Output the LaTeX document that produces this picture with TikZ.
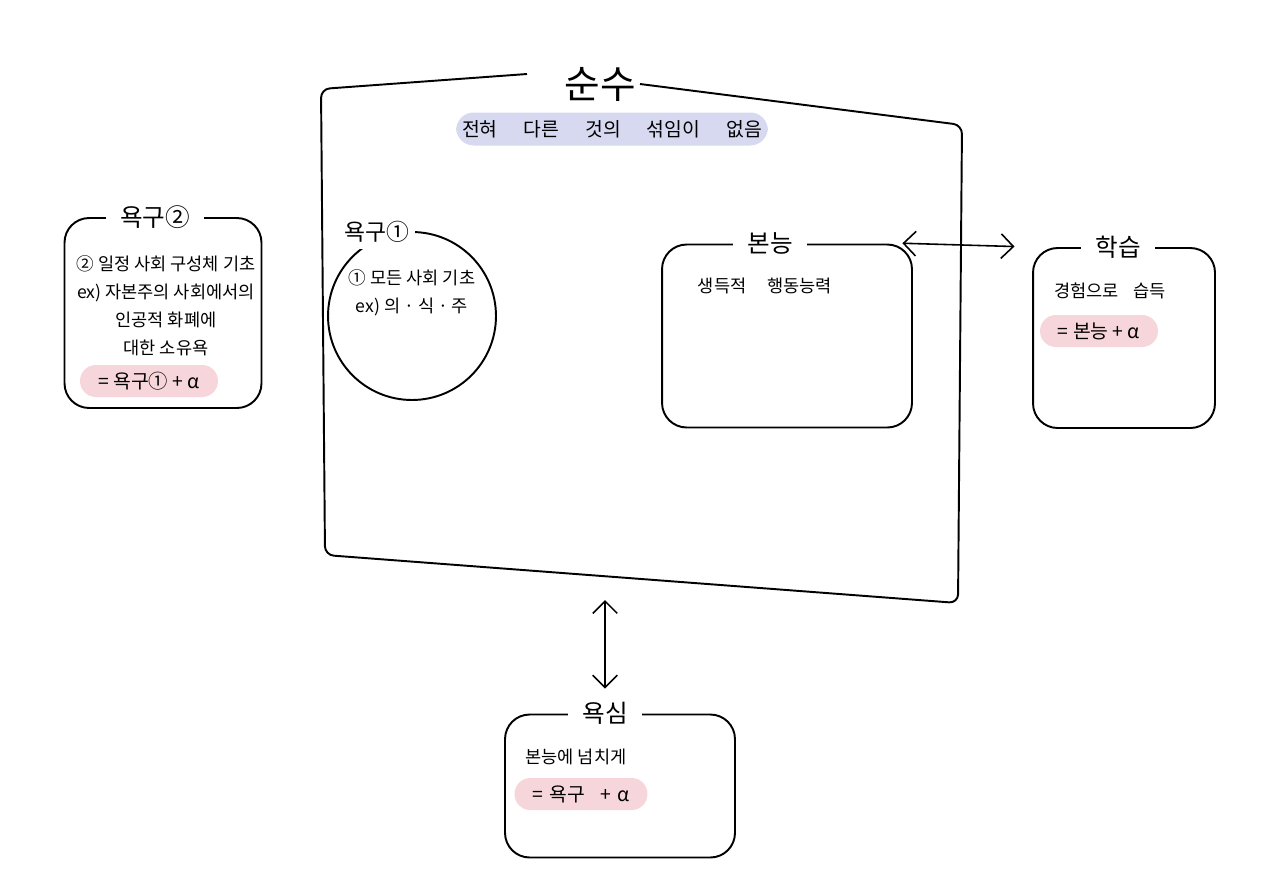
\documentclass[tikz,border=0pt]{standalone}
\usepackage{fontspec}
\setmainfont{Noto Sans CJK KR}
\usetikzlibrary{arrows.meta}

\definecolor{lavender}{RGB}{214,217,240}
\definecolor{blush}{RGB}{246,214,218}

\begin{document}
\begin{tikzpicture}[x=0.02cm, y=-0.02cm, line width=1.1pt,
  box/.style={draw, rounded corners=14pt},
  heading/.style={fill=white, inner xsep=8pt, font=\fontsize{14}{16}\selectfont},
  note/.style={align=center, font=\fontsize{10}{16}\selectfont},
  hlpink/.style={fill=blush, rounded corners=9pt, minimum height=0.64cm, font=\fontsize{11}{13}\selectfont},
  dbl/.style={{Straight Barb[length=7pt]}-{Straight Barb[length=7pt]}, line width=0.9pt}]

\useasboundingbox (0,0) rectangle (1280,893);

% Pure (big frame)
\draw[rounded corners=5pt] (527,74) -- (321,89) -- (325,555) -- (958,603) -- (962,125) -- (640,84);
\node (pure) at (600,84) {\fontsize{22}{24}\selectfont 순수};
\node[fill=lavender, rounded corners=10pt, minimum height=0.66cm, text width=6cm,
  font=\fontsize{11}{13}\selectfont] (puretext) at (612,129)
  {전혀\hfill 다른\hfill 것의\hfill 섞임이\hfill 없음};

% Desire 2
\node[box, minimum width=3.94cm, minimum height=3.8cm] (desire2) at (163,313) {};
\node[heading] (desire2t) at ([xshift=-0.16cm]desire2.north) {욕구②};
\node[note] (desire2x) at (166,306)
  {② 일정 사회 구성체 기초\\ex) 자본주의 사회에서의\\인공적 화폐에\\대한 소유욕};
\node[hlpink, minimum width=2.76cm] (desire2f) at (149,381) {= 욕구① + α};

% Desire 1
\node[draw, circle, minimum size=3.36cm] (desire1) at (412,316) {};
\node[heading, inner xsep=3pt, font=\fontsize{13}{15}\selectfont] (desire1t) at (377,232) {욕구①};
\node[note] (desire1x) at (412,293) {① 모든 사회 기초\\ex) 의 · 식 · 주};

% Instinct
\node[box, minimum width=5cm, minimum height=3.66cm] (instinct) at (787,336) {};
\node[heading] (instinctt) at ([xshift=-0.34cm]instinct.north) {본능};
\node[note] (instinctx) at (765,286) {생득적\hspace{1.2em}행동능력};

% Learning
\node[box, minimum width=3.64cm, minimum height=3.6cm] (learn) at (1124,338) {};
\node[heading] (learnt) at ([xshift=-0.12cm]learn.north) {학습};
\node[note] (learnx) at (1110,291) {경험으로\hspace{0.8em}습득};
\node[hlpink, minimum width=2.36cm] (learnf) at (1099,331) {= 본능 + α};

% Greed
\node[box, minimum width=4.6cm, minimum height=2.86cm] (greed) at (620,786) {};
\node[heading] (greedt) at ([xshift=-0.3cm]greed.north) {욕심};
\node[note] (greedx) at (576,757) {본능에 넘치게};
\node[hlpink, minimum width=2.66cm] (greedf) at (581,794) {=\hspace{0.3em}욕구\hspace{0.8em}+\hspace{0.3em}α};

% Arrows
\draw[dbl, shorten <=-6pt, shorten >=10pt] (instinct.north east) -- (learn.north west);
\coordinate (pureb) at (605,578);
\draw[dbl, shorten <=22*0.02cm, shorten >=25*0.02cm] (pureb) -- (pureb |- greed.north);

\end{tikzpicture}
\end{document}
